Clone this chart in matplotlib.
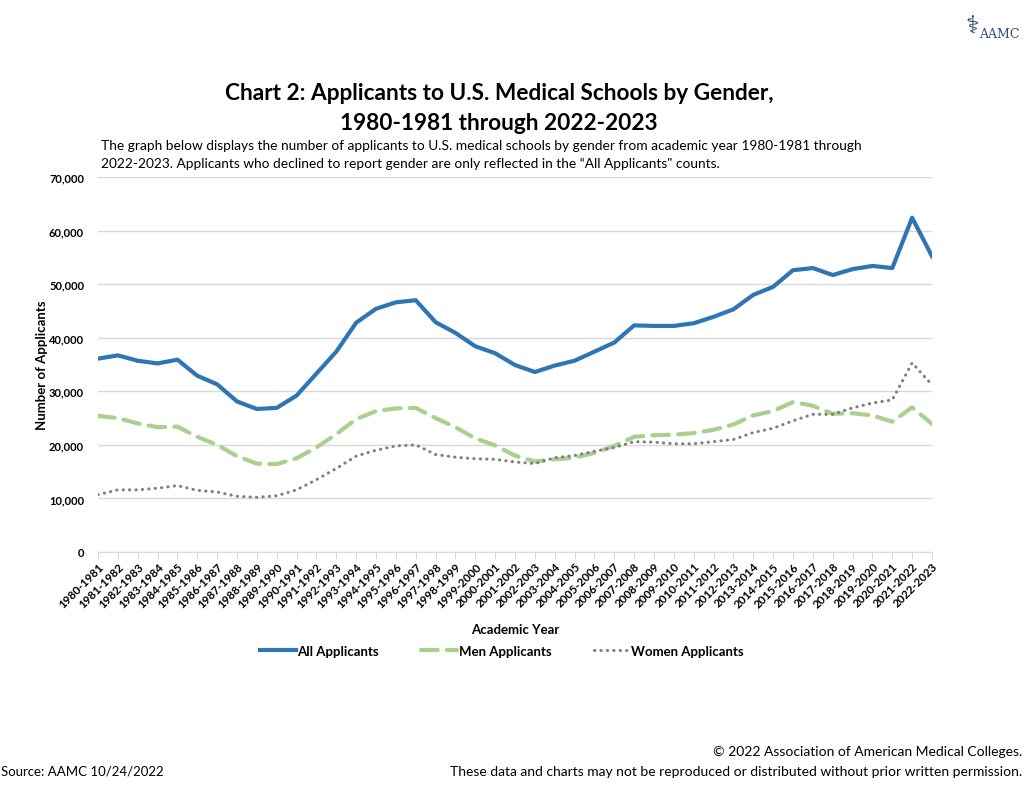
import matplotlib
matplotlib.use("Agg")
import matplotlib.pyplot as plt
from matplotlib.ticker import FuncFormatter, MultipleLocator

YEARS = [f"{y}-{y + 1}" for y in range(1980, 2023)]

ALL_APPLICANTS = [
    36100, 36700, 35700, 35200, 35900, 32900, 31300, 28100, 26700, 26900,
    29200, 33300, 37400, 42800, 45400, 46600, 47000, 42900, 40900, 38400,
    37100, 34900, 33600, 34800, 35700, 37400, 39100, 42300, 42200, 42200,
    42700, 43900, 45300, 48000, 49500, 52600, 53000, 51700, 52800, 53400,
    53000, 62400, 55200,
]
MEN = [
    25400, 25000, 24000, 23300, 23400, 21500, 20000, 17900, 16500, 16400,
    17500, 19500, 22000, 24800, 26300, 26800, 26900, 25000, 23300, 21200,
    19900, 18000, 16900, 17300, 17600, 18500, 19800, 21500, 21800, 21900,
    22200, 22800, 23800, 25500, 26300, 28000, 27300, 25800, 25900, 25500,
    24300, 27000, 23900,
]
WOMEN = [
    10700, 11600, 11600, 11900, 12400, 11500, 11200, 10400, 10200, 10500,
    11600, 13500, 15600, 17900, 19000, 19800, 20000, 18200, 17700, 17400,
    17300, 16800, 16500, 17600, 18000, 18800, 19500, 20600, 20500, 20200,
    20200, 20600, 21000, 22300, 23100, 24500, 25700, 25700, 26900, 27800,
    28400, 35300, 31200,
]

W, H = 1033, 804
FONT = ["Lato", "DejaVu Sans"]


def main() -> None:
    plt.rcParams["font.family"] = FONT
    fig = plt.figure(figsize=(W / 100, H / 100), dpi=100)
    ax = fig.add_axes([98 / W, 1 - 553 / H, (932 - 98) / W, (553 - 178) / H])

    x = list(range(len(YEARS)))
    ax.plot(x, ALL_APPLICANTS, color="#2E75B6", lw=3.0, solid_joinstyle="round",
            label="All Applicants")
    ax.plot(x, MEN, color="#A9D18E", lw=3.0, dashes=(4, 2.2),
            dash_capstyle="round", label="Men Applicants")
    ax.plot(x, WOMEN, color="#7F7F7F", lw=2.2, dashes=(0.1, 2.0),
            dash_capstyle="round", label="Women Applicants")

    ax.set_xlim(0, len(YEARS) - 1)
    ax.set_ylim(0, 70000)
    ax.yaxis.set_major_locator(MultipleLocator(10000))
    ax.yaxis.set_major_formatter(FuncFormatter(lambda v, _: f"{int(v):,}"))
    ax.grid(axis="y", color="#D9D9D9", lw=1)
    ax.set_axisbelow(True)
    for side in ("top", "right", "left"):
        ax.spines[side].set_visible(False)
    ax.spines["bottom"].set_color("#D9D9D9")
    ax.tick_params(axis="y", length=0, pad=10, labelsize=8)
    ax.tick_params(axis="x", length=5, color="#D9D9D9", labelsize=8.3, pad=1)
    ax.set_xticks(x)
    ax.set_xticklabels(YEARS, rotation=45, ha="right", rotation_mode="anchor",
                       fontweight="bold")
    for lab in ax.get_yticklabels():
        lab.set_fontweight("bold")

    ax.set_ylabel("Number of Applicants", fontsize=9.5, fontweight="bold")
    ax.yaxis.set_label_coords(-50 / (932 - 98), 0.5)
    ax.set_xlabel("Academic Year", fontsize=9.5, fontweight="bold")
    ax.xaxis.set_label_coords((515 - 98) / (932 - 98), -(624 - 553) / (553 - 178))

    ax.legend(loc="center", bbox_to_anchor=((502 - 98) / (932 - 98),
                                            -(652 - 553) / (553 - 178)),
              ncol=3, frameon=False, handlelength=2.7, columnspacing=3.2,
              handletextpad=0.15, prop={"family": FONT, "weight": "bold",
                                        "size": 9.5})

    fig.text(499 / W, 1 - 94 / H,
             "Chart 2: Applicants to U.S. Medical Schools by Gender,",
             ha="center", va="center", fontsize=16.3, fontweight="bold")
    fig.text(499 / W, 1 - 124 / H, "1980-1981 through 2022-2023",
             ha="center", va="center", fontsize=16.3, fontweight="bold")
    fig.text(101 / W, 1 - 146 / H,
             "The graph below displays the number of applicants to U.S. medical "
             "schools by gender from academic year 1980-1981 through",
             ha="left", va="center", fontsize=9.9)
    fig.text(101 / W, 1 - 164 / H,
             "2022-2023. Applicants who declined to report gender are only "
             "reflected in the \u201cAll Applicants\" counts.",
             ha="left", va="center", fontsize=9.9)

    fig.text(1022 / W, 1 - 752 / H,
             "\u00a9 2022 Association of American Medical Colleges.",
             ha="right", va="center", fontsize=10)
    fig.text(1022 / W, 1 - 772 / H,
             "These data and charts may not be reproduced or distributed "
             "without prior written permission.",
             ha="right", va="center", fontsize=10)
    fig.text(1 / W, 1 - 772 / H, "Source: AAMC 10/24/2022",
             ha="left", va="center", fontsize=9.5)

    # logo
    fig.text(972 / W, 1 - 26 / H, "\u2695", ha="center", va="center",
             fontsize=18, color="#1F3A6E", family="DejaVu Sans")
    fig.text(979 / W, 1 - 34 / H, "AAMC", ha="left", va="center",
             fontsize=9, color="#2F4A7A", family="DejaVu Serif")

    fig.savefig("out.png", dpi=100)
    plt.close(fig)


if __name__ == "__main__":
    main()
